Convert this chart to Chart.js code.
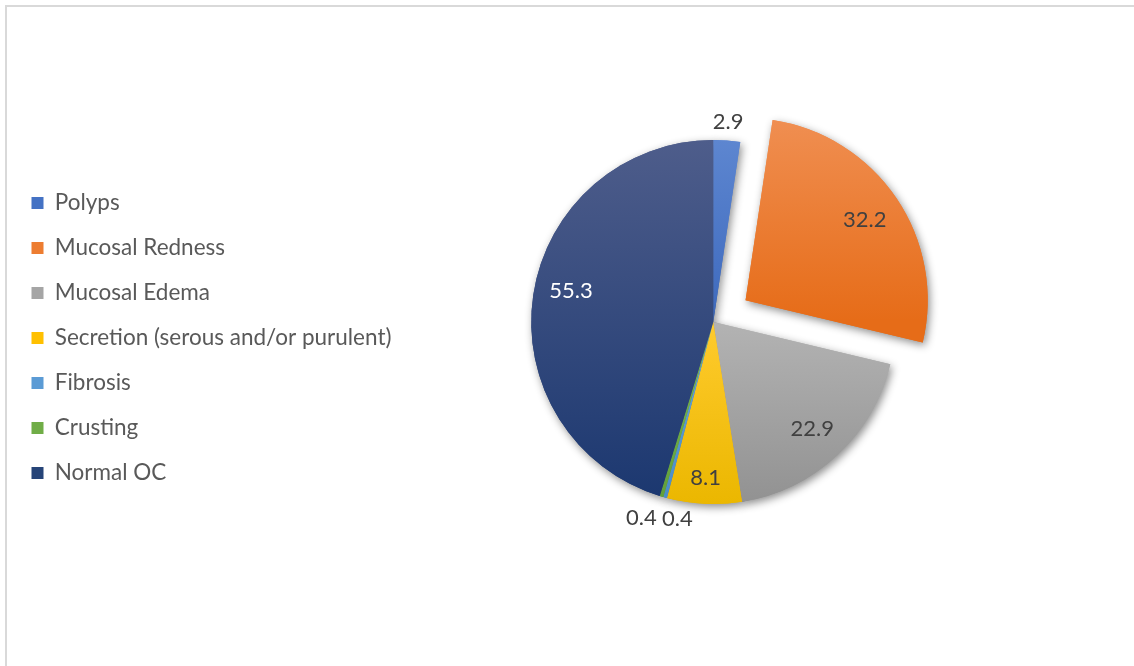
<!DOCTYPE html>
<html>
<head>
<meta charset="utf-8">
<title>Oral cavity findings</title>
<script src="https://cdn.jsdelivr.net/npm/chart.js@4.4.1/dist/chart.umd.min.js"></script>
<style>
  html, body { margin: 0; padding: 0; background: #fff; }
  #wrap { position: relative; width: 1134px; height: 666px; overflow: hidden; }
  #frame { position: absolute; left: 5px; top: 5px; width: 1200px; height: 720px;
           border-top: 2px solid #d9d9d9; border-left: 2px solid #d9d9d9; }
  #findingsChart { position: absolute; left: 0; top: 0; }
</style>
</head>
<body>
<div id="wrap">
  <div id="frame"></div>
  <canvas id="findingsChart" width="1134" height="666"></canvas>
</div>
<script>
const findings = [
  'Polyps',
  'Mucosal Redness',
  'Mucosal Edema',
  'Secretion (serous and/or purulent)',
  'Fibrosis',
  'Crusting',
  'Normal OC'
];
const percents = [2.9, 32.2, 22.9, 8.1, 0.4, 0.4, 55.3];

// fill runs from a lighter tint at the top of each slice to the base shade at its bottom
const sliceTop    = ['#5d86d0', '#f19257', '#b3b3b3', '#ffcb2e', '#6aa6dc', '#7cb957', '#4e5d8b'];
const sliceBottom = ['#3d69bd', '#e66c18', '#929292', '#ebb700', '#4a8dc9', '#62a03a', '#1c3870'];
const legendColors = ['#4472c4', '#ed7d31', '#a5a5a5', '#ffc000', '#5b9bd5', '#70ad47', '#264478'];

const PIE_RADIUS = 182;
// arcs move out by offset / 4, so 156 pulls the redness slice ~39px
const sliceOffset = [0, 156, 0, 0, 0, 0, 0];

// where each value label sits, as a fraction of the radius, plus small nudges
const labelRadius = [1.1, 0.79, 0.8, 0.86, 1.12, 1.12, 0.79];
const labelShiftX = [0, 0, 0, 0, 18, -14, 0];
const labelShiftY = [0, 0, 0, 0, 0, 0, -10];
const labelColors = ['#404040', '#404040', '#404040', '#404040', '#404040', '#404040', '#ffffff'];

Chart.defaults.font.family = 'Lato';
Chart.defaults.color = '#595959';

function sliceGradient(context) {
  const i = context.dataIndex;
  const chart = context.chart;
  const area = chart.chartArea;
  if (!area) return legendColors[i];
  const total = percents.reduce((a, b) => a + b, 0);
  const before = percents.slice(0, i).reduce((a, b) => a + b, 0);
  // angles measured clockwise from 12 o'clock
  const a0 = before / total * Math.PI * 2;
  const a1 = (before + percents[i]) / total * Math.PI * 2;
  const mid = (a0 + a1) / 2;
  const cy = (area.top + area.bottom) / 2 - Math.cos(mid) * sliceOffset[i] / 4;
  const ys = [0, -Math.cos(a0) * PIE_RADIUS, -Math.cos(a1) * PIE_RADIUS];
  if (a0 <= 0) ys.push(-PIE_RADIUS);
  if (a0 <= Math.PI && a1 >= Math.PI) ys.push(PIE_RADIUS);
  const y0 = cy + Math.min(...ys);
  const y1 = cy + Math.max(...ys);
  const g = chart.ctx.createLinearGradient(0, y0, 0, Math.max(y1, y0 + 1));
  g.addColorStop(0, sliceTop[i]);
  g.addColorStop(1, sliceBottom[i]);
  return g;
}

// soft drop shadow under the whole pie, painted before the slices themselves
const pieShadow = {
  id: 'pieShadow',
  beforeDatasetsDraw(chart) {
    const ctx = chart.ctx;
    ctx.save();
    ctx.shadowColor = 'rgba(0, 0, 0, 0.45)';
    ctx.shadowBlur = 9;
    ctx.shadowOffsetX = 2;
    ctx.shadowOffsetY = 3;
    chart.getDatasetMeta(0).data.forEach(arc => arc.draw(ctx));
    ctx.restore();
  }
};

const valueLabels = {
  id: 'valueLabels',
  afterDatasetsDraw(chart) {
    const ctx = chart.ctx;
    ctx.save();
    ctx.font = '22px Lato';
    ctx.textAlign = 'center';
    ctx.textBaseline = 'middle';
    chart.getDatasetMeta(0).data.forEach((arc, i) => {
      const {x, y, startAngle, endAngle, outerRadius} =
        arc.getProps(['x', 'y', 'startAngle', 'endAngle', 'outerRadius'], true);
      const mid = (startAngle + endAngle) / 2;
      const r = outerRadius * labelRadius[i] + sliceOffset[i] / 4;
      ctx.fillStyle = labelColors[i];
      ctx.fillText(percents[i].toFixed(1),
        x + Math.cos(mid) * r + labelShiftX[i],
        y + Math.sin(mid) * r + labelShiftY[i]);
    });
    ctx.restore();
  }
};

const ctx = document.getElementById('findingsChart').getContext('2d');

const chart = new Chart(ctx, {
  type: 'pie',
  data: {
    labels: findings,
    datasets: [{
      data: percents,
      backgroundColor: sliceGradient,
      borderWidth: 0,
      offset: sliceOffset
    }]
  },
  options: {
    responsive: false,
    animation: false,
    radius: PIE_RADIUS,
    layout: {
      padding: { left: 9, right: 109, top: 0, bottom: 22 }
    },
    plugins: {
      legend: {
        position: 'left',
        title: {
          // empty title just drops the list a little below the pie centre
          display: true,
          text: '',
          font: { size: 20 },
          padding: { top: 8, bottom: 0 }
        },
        labels: {
          boxWidth: 12,
          boxHeight: 12,
          padding: 22.5,
          color: '#595959',
          font: { size: 22.5 },
          generateLabels() {
            return findings.map((text, i) => ({
              text,
              fillStyle: legendColors[i],
              strokeStyle: legendColors[i],
              lineWidth: 0,
              fontColor: '#595959',
              hidden: false,
              index: i
            }));
          }
        }
      },
      tooltip: { enabled: false }
    }
  },
  plugins: [pieShadow, valueLabels]
});
</script>
</body>
</html>
